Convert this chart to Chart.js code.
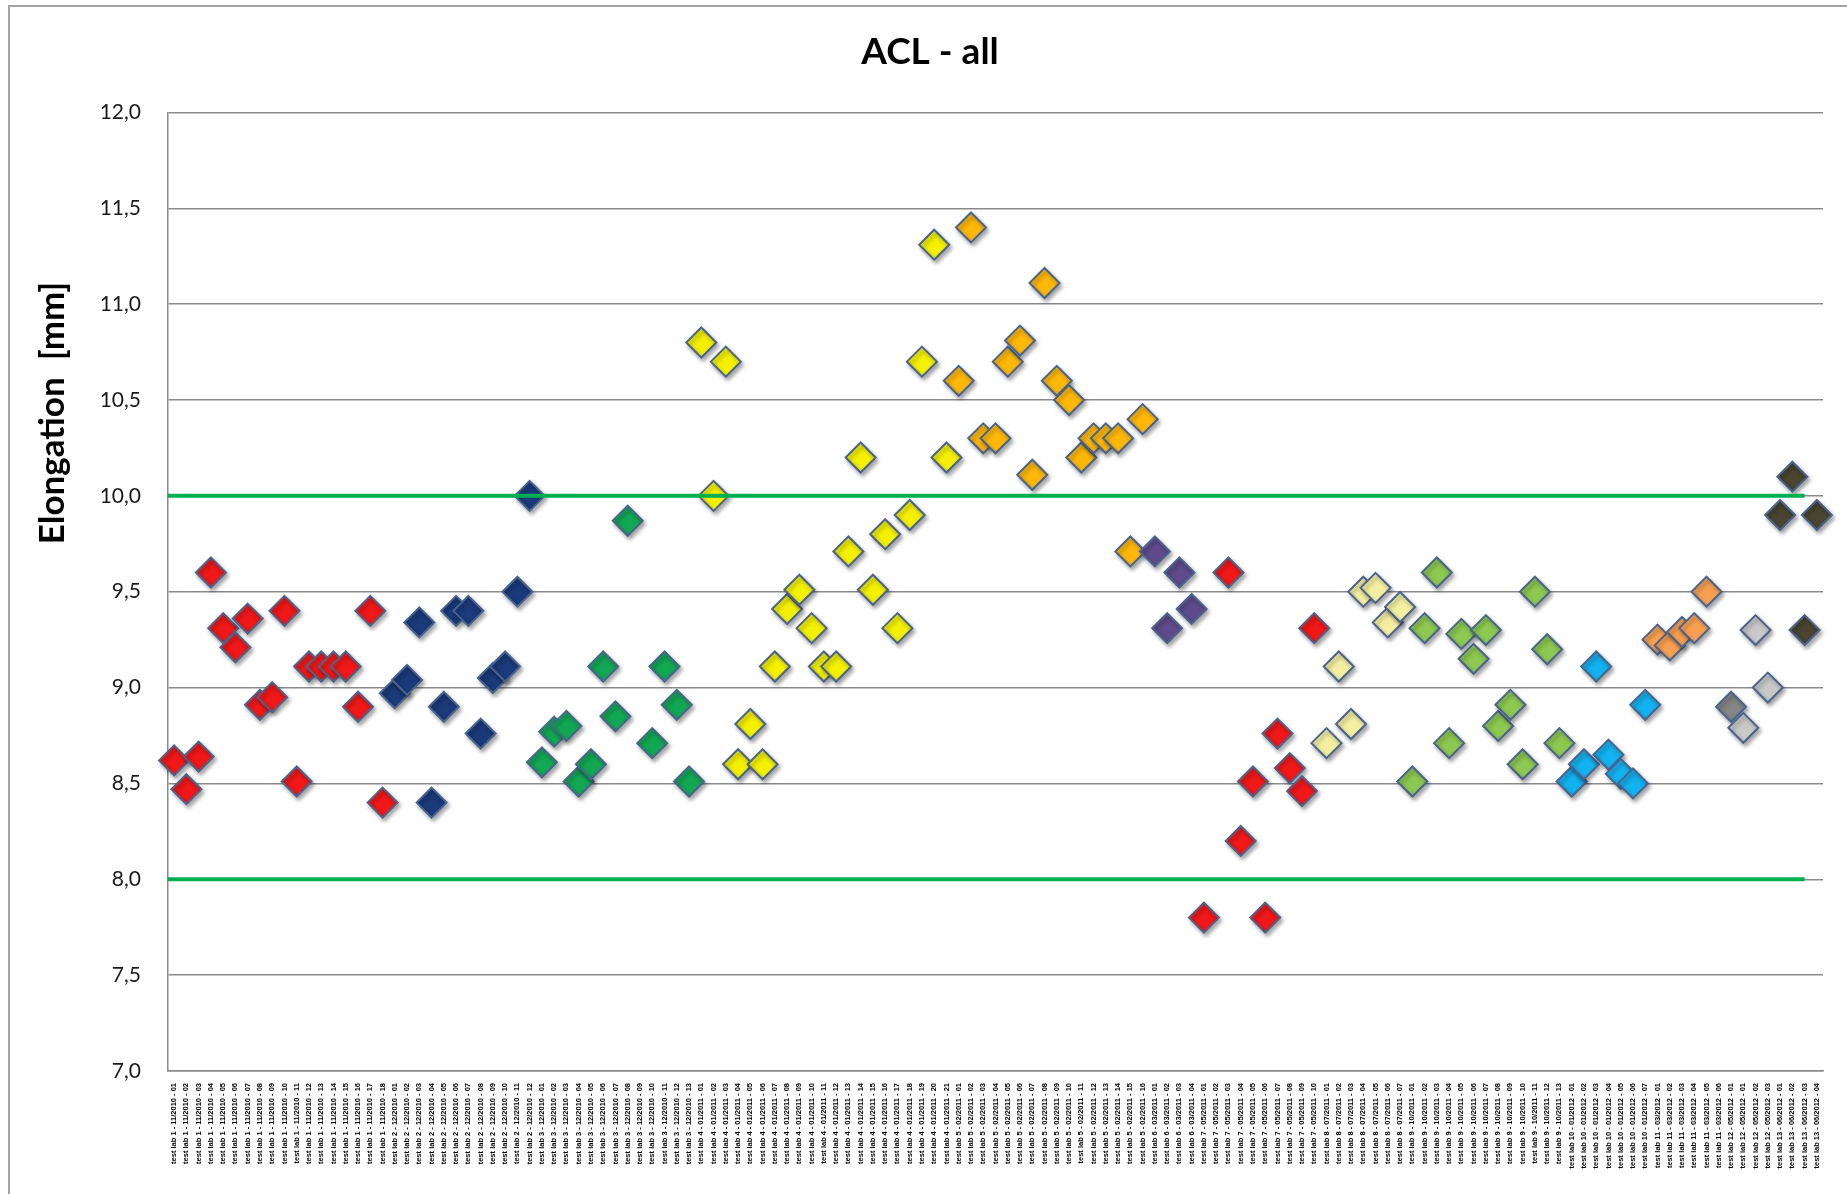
<!DOCTYPE html>
<html>
<head>
<meta charset="utf-8">
<title>ACL - all</title>
<script src="https://cdn.jsdelivr.net/npm/chart.js@4.4.1/dist/chart.umd.min.js"></script>
<style>
    html, body { margin: 0; padding: 0; background: #fff; overflow: hidden; }
    #frame { position: absolute; left: 8px; top: 5px; width: 1900px; height: 1300px; border: 2px solid #a3a3a3; box-sizing: border-box; }
    #myChart { position: absolute; left: 0; top: 0; }
</style>
</head>
<body>
<div id="frame"></div>
<canvas id="myChart" width="1847" height="1194"></canvas>
<script>
const chartTitle = "ACL - all";
const yTitle = "Elongation  [mm]";
const yTickLabels = ["7,0", "7,5", "8,0", "8,5", "9,0", "9,5", "10,0", "10,5", "11,0", "11,5", "12,0"];

// elongation values per test group, in the order they sit on the x axis
const redA = [8.62, 8.47, 8.64, 9.6, 9.31, 9.21, 9.36, 8.91, 8.95, 9.4, 8.51, 9.11, 9.11, 9.11, 9.11, 8.9, 9.4, 8.4];
const navy = [8.97, 9.04, 9.34, 8.4, 8.9, 9.4, 9.4, 8.76, 9.05, 9.11, 9.5, 10.0];
const green = [8.61, 8.77, 8.8, 8.51, 8.6, 9.11, 8.85, 9.87, null, 8.71, 9.11, 8.91, 8.51];
const yellow = [10.8, 10.0, 10.7, 8.6, 8.81, 8.6, 9.11, 9.41, 9.51, 9.31, 9.11, 9.11, 9.71, 10.2, 9.51, 9.8, 9.31, 9.9, 10.7, 11.31, 10.2];
const orange = [10.6, 11.4, 10.3, 10.3, 10.7, 10.81, 10.11, 11.11, 10.6, 10.5, 10.2, 10.3, 10.3, 10.3, 9.71, 10.4];
const purple = [9.71, 9.31, 9.6, 9.41];
const redB = [7.8, null, 9.6, 8.2, 8.51, 7.8, 8.76, 8.58, 8.46, 9.31];
const paleYellow = [8.71, 9.11, 8.81, 9.5, 9.52, 9.34, 9.42];
const lime = [8.51, 9.31, 9.6, 8.71, 9.28, 9.15, 9.3, 8.8, 8.91, 8.6, 9.5, 9.2, 8.71];
const cyan = [8.51, 8.6, 9.11, 8.65, 8.55, 8.5, 8.91];
const lightOrange = [9.25, 9.22, 9.29, 9.31, 9.5, null];
const darkGray = [8.9];
const lightGray = [8.79, 9.3, 9.0];
const olive = [9.9, 10.1, 9.3, 9.9];

const limitValues = [10.0, 8.0];
const limitRange = [-0.5, 133];

const groups = [
    { tag: "test lab 1 - 11/2010 -", values: redA, color: "#F01818" },
    { tag: "test lab 2 - 12/2010 -", values: navy, color: "#1B3A7A" },
    { tag: "test lab 3 - 12/2010 -", values: green, color: "#12A853" },
    { tag: "test lab 4 - 01/2011 -", values: yellow, color: "#F4F000" },
    { tag: "test lab 5 - 02/2011 -", values: orange, color: "#FFB808" },
    { tag: "test lab 6 - 03/2011 -", values: purple, color: "#5F4B8B" },
    { tag: "test lab 7 - 05/2011 -", values: redB, color: "#F01818" },
    { tag: "test lab 8 - 07/2011 -", values: paleYellow, color: "#F4EFA0" },
    { tag: "test lab 9 - 10/2011 -", values: lime, color: "#8DC850" },
    { tag: "test lab 10 - 01/2012 -", values: cyan, color: "#12B2F0" },
    { tag: "test lab 11 - 03/2012 -", values: lightOrange, color: "#F8A050" },
    { tag: "test lab 12 - 05/2012 -", values: darkGray, color: "#858585" },
    { tag: "test lab 12 - 05/2012 -", values: lightGray, color: "#C9C9C9" },
    { tag: "test lab 13 - 06/2012 -", values: olive, color: "#4A4530" }
];

const categories = [];
groups.forEach(g => {
    g.values.forEach((v, k) => {
        categories.push(`${g.tag} ${String(k + 1).padStart(2, "0")}`);
    });
});

const datasets = [];
let start = 0;
groups.forEach((g, gi) => {
    const data = new Array(categories.length).fill(null);
    g.values.forEach((v, k) => { data[start + k] = v; });
    start += g.values.length;
    datasets.push({
        data: data,
        xAxisID: "x",
        showLine: false,
        pointStyle: "rectRot",
        pointRadius: 15,
        pointBorderWidth: 2,
        pointBorderColor: "#48648E",
        pointBackgroundColor: g.color,
        clip: false,
        order: -gi
    });
});

limitValues.forEach(v => {
    datasets.push({
        isLimit: true,
        data: limitRange.map(x => ({ x: x, y: v })),
        xAxisID: "xLim",
        borderColor: "#00B050",
        borderWidth: 4,
        pointRadius: 0,
        order: -100
    });
});

// soft drop shadow under the diamonds, like the office chart
const markerShadow = {
    id: "markerShadow",
    beforeDatasetDraw(chart, args) {
        if (chart.data.datasets[args.index].isLimit) return;
        const ctx = chart.ctx;
        ctx.save();
        ctx.shadowColor = "rgba(0,0,0,0.35)";
        ctx.shadowBlur = 4;
        ctx.shadowOffsetX = 2;
        ctx.shadowOffsetY = 3;
    },
    afterDatasetDraw(chart, args) {
        if (chart.data.datasets[args.index].isLimit) return;
        chart.ctx.restore();
    }
};

const yTitlePlugin = {
    id: "yTitle",
    afterDraw(chart) {
        const ctx = chart.ctx;
        ctx.save();
        ctx.translate(53, 413);
        ctx.rotate(-Math.PI / 2);
        ctx.font = "bold 35px Lato";
        ctx.fillStyle = "#000";
        ctx.textAlign = "center";
        ctx.textBaseline = "middle";
        ctx.fillText(yTitle, 0, 0);
        ctx.restore();
    }
};

function draw() {
    const ctx = document.getElementById("myChart").getContext("2d");
    new Chart(ctx, {
        type: "line",
        data: { labels: categories, datasets: datasets },
        plugins: [markerShadow, yTitlePlugin],
        options: {
            responsive: false,
            animation: false,
            events: [],
            layout: { padding: { left: 37, right: 24, top: 0, bottom: 0 } },
            plugins: {
                legend: { display: false },
                tooltip: { enabled: false },
                title: {
                    display: true,
                    text: chartTitle,
                    color: "#000",
                    font: { family: "Lato", size: 37, weight: "bold" },
                    padding: { top: 30, bottom: 38 }
                }
            },
            scales: {
                x: {
                    type: "category",
                    offset: true,
                    grid: { display: false },
                    border: { display: true, color: "#8a8a8a", width: 1.5 },
                    ticks: {
                        autoSkip: false,
                        maxRotation: 90,
                        minRotation: 90,
                        padding: 4,
                        color: "#000",
                        font: { family: "Liberation Sans", size: 7.5, weight: "bold" }
                    },
                    afterFit(scale) { scale.height = 123; }
                },
                xLim: { type: "linear", display: false, min: -0.5, max: 134.5 },
                y: {
                    min: 7,
                    max: 12,
                    ticks: {
                        stepSize: 0.5,
                        padding: 27,
                        color: "#1a1a1a",
                        font: { family: "Lato", size: 21 },
                        callback: (v, i) => yTickLabels[i]
                    },
                    grid: { color: "#8a8a8a", lineWidth: 1.5, drawTicks: false },
                    border: { display: true, color: "#8a8a8a", width: 1.5 },
                    afterFit(scale) { scale.width = 131; }
                }
            }
        }
    });
}

document.fonts.load("bold 37px Lato").then(draw, draw);
</script>
</body>
</html>
